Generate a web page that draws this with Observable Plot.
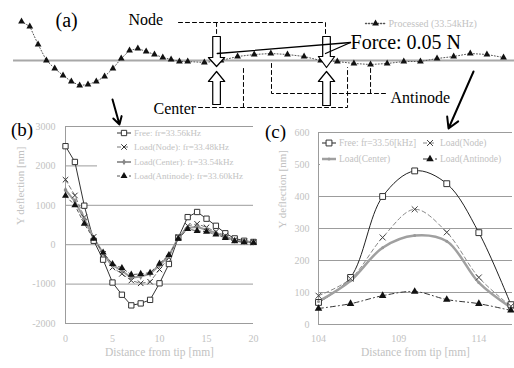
<!DOCTYPE html>
<html><head><meta charset="utf-8">
<script src="https://cdn.jsdelivr.net/npm/d3@7"></script>
<script src="https://cdn.jsdelivr.net/npm/@observablehq/plot@0.6"></script>
<style>
html,body{margin:0;padding:0;background:#fff;}
#wrap{position:relative;width:514px;height:368px;overflow:hidden;background:#fff;}
#wrap svg{position:absolute;top:0;}
</style></head><body><div id="wrap"></div>
<script>
// ---------- Panel (a): processed deflection shape ----------
const posA = [0,1,2,3,4,5,6,7,8,9,10,11,12,13,14,15,16,17,18,19,20,22,24,26,28,30,32,34,36,38,40,42,44,46,48,50,52,54,56,58];
const defA = [39,34,16,0,-8,-15,-21,-25,-24,-21,-16,-8,2,10,12,9,6,3,1,-1,-1,-2,0,4,6,7,6,4,0,-1,-3,-4,-3,-1,-1,2,4,7,6,3];
const labelA = "Processed (33.54kHz)";

// ---------- Panel (b) ----------
const distB = [0,1,2,3,4,5,6,7,8,9,10,11,12,13,14,15,16,17,18,19,20];
const freeB = [2500,2100,990,100,-380,-960,-1270,-1540,-1490,-1400,-980,-490,180,700,830,660,480,290,160,100,70];
const nodeB = [1650,1250,700,200,-230,-580,-740,-910,-980,-940,-630,-330,200,480,530,440,330,230,120,80,60];
const centerB = [1390,1100,650,170,-220,-520,-660,-840,-810,-740,-520,-280,180,430,450,380,300,200,110,70,60];
const antiB = [1240,1000,530,150,-200,-490,-590,-760,-740,-710,-480,-260,150,400,350,330,260,170,90,60,50];
const yTicksB = [-2000,-1000,0,1000,2000,3000];
const xTicksB = [0,5,10,15,20];
const namesB = ["Free: fr=33.56kHz","Load(Node): fr=33.48kHz","Load(Center): fr=33.54kHz","Load(Antinode): fr=33.60kHz"];

// ---------- Panel (c) ----------
const distC = [104,106,108,110,112,114,116];
const freeC = [69,147,400,480,440,287,62];
const nodeC = [90,143,272,360,288,147,57];
const centerC = [72,137,240,278,260,131,53];
const antiC = [50,65,90,103,78,65,44];
const yTicksC = [0,100,200,300,400,500,600];
const xTicksC = [104,109,114];
const namesC = ["Free: fr=33.56[kHz]","Load(Node)","Load(Center)","Load(Antinode)"];

const xLabel = "Distance from tip [mm]";
const yLabel = "Y deflection [nm]";

// ---------- annotation geometry (panel (a) data units) ----------
const blockArrows = [
  {cx:23.47, top:24, base:3, tip:-6},
  {cx:23.47, top:-44, base:-21, tip:-11},
  {cx:36.70, top:24, base:4, tip:-7},
  {cx:36.70, top:-45, base:-21, tip:-11}
];
const dashedA = [
  [[18.89,38],[36.58,38],[36.58,24]],
  [[23.47,38],[23.47,24]],
  [[21.30,-47],[39.23,-47],[39.23,-7]],
  [[26.71,-47],[26.71,-7]],
  [[30.08,-3],[30.08,-33],[43.80,-33]],
  [[42.00,-33],[42.00,-5]]
];
const forceLines = [
  [[39.59,18],[23.55,7]],
  [[39.59,18],[36.58,7]]
];
const pointerArrows = [
  {x1:10.95,y1:-39,x2:11.79,y2:-64},
  {x1:54.39,y1:-11,x2:51.38,y2:-68}
];
const textsA = [
  {x:4.09, y:40, t:"(a)", s:20},
  {x:12.88, y:41, t:"Node", s:16},
  {x:15.88, y:-48, t:"Center", s:16},
  {x:44.4, y:-37, t:"Antinode", s:16},
  {x:39.59, y:18, t:"Force: 0.05 N", s:20}
];

const FONT = "Liberation Serif, Times New Roman, serif";
const faint = "#c2c2c2";
const grid = "#9c9c9c";
const fmt = d => String(d);

const stylesB = [
  {stroke:"#333", width:1, dash:null, symbol:"square", r:3, fill:"white", ms:"#333"},
  {stroke:"#777", width:1, dash:"4,3", symbol:"times", r:2.6, fill:"none", ms:"#333"},
  {stroke:"#9a9a9a", width:2, dash:null, symbol:"diamond", r:2, fill:"#888", ms:"none"},
  {stroke:"#555", width:1, dash:"3,3", symbol:"triangle", r:2.6, fill:"#111", ms:"none"}
];
const stylesC = [
  {stroke:"#222", width:1, dash:null, symbol:"square", r:3.3, fill:"white", ms:"#333"},
  {stroke:"#888", width:1, dash:"4,3", symbol:"times", r:2.8, fill:"none", ms:"#444"},
  {stroke:"#a0a0a0", width:2.5, dash:null, symbol:"circle", r:1.5, fill:"#999", ms:"none"},
  {stroke:"#333", width:1, dash:"5,3,1,3", symbol:"triangle", r:2.8, fill:"#111", ms:"none"}
];

function rows(xs, ys){ return xs.map((x,i)=>({x, y: ys[i]})); }

function seriesMarks(xs, list, styles, curve){
  const m = [];
  list.forEach((ys, k)=>{
    const s = styles[k], r = rows(xs, ys);
    m.push(Plot.line(r, {x:"x", y:"y", stroke:s.stroke, strokeWidth:s.width, strokeDasharray:s.dash, curve}));
  });
  list.forEach((ys, k)=>{
    const s = styles[k], r = rows(xs, ys);
    m.push(Plot.dot(r, {x:"x", y:"y", symbol:s.symbol, r:s.r, fill:s.fill, stroke:s.ms, strokeWidth:1}));
  });
  return m;
}

const symMap = {square:d3.symbolSquare, times:d3.symbolTimes, diamond:d3.symbolDiamond, triangle:d3.symbolTriangle, circle:d3.symbolCircle};

function drawLegend(svg, names, styles, pos, box, fs){
  const g = d3.select(svg).append("g").attr("text-anchor","start");
  g.append("rect").attr("x",box[0]).attr("y",box[1]).attr("width",box[2]).attr("height",box[3]).attr("fill","white");
  names.forEach((n,i)=>{
    const s = styles[i], [x,y] = pos[i];
    g.append("line").attr("x1",x).attr("x2",x+14).attr("y1",y).attr("y2",y)
      .attr("stroke",s.stroke).attr("stroke-width",s.width).attr("stroke-dasharray",s.dash);
    g.append("path").attr("transform",`translate(${x+7},${y})`)
      .attr("d", d3.symbol(symMap[s.symbol], Math.PI*s.r*s.r)())
      .attr("fill", s.fill).attr("stroke", s.ms);
    g.append("text").attr("x",x+17).attr("y",y).attr("dy","0.35em").attr("text-anchor","start")
      .attr("font-size",fs).attr("font-family",FONT).attr("fill",faint).text(n);
  });
}

// ---- Panel (b)
const svgB = Plot.plot({
  width:260, height:368, marginLeft:65, marginRight:7, marginTop:126, marginBottom:45,
  style:{fontFamily:FONT, background:"transparent", overflow:"visible"},
  x:{domain:[0,20]}, y:{domain:[-2000,3000]},
  marks:[
    Plot.ruleY(yTicksB, {stroke:grid, strokeWidth:1}),
    Plot.ruleX([0], {stroke:grid, strokeWidth:1}),
    Plot.axisY({ticks:yTicksB, tickFormat:fmt, tickSize:0, tickPadding:10, label:null, fill:faint, fontSize:10, fontFamily:FONT}),
    Plot.axisX({ticks:xTicksB, tickFormat:fmt, tickSize:0, tickPadding:11, label:null, fill:faint, fontSize:10, fontFamily:FONT}),
    Plot.text([xLabel], {text:d=>d, frameAnchor:"bottom", dy:32, fill:faint, fontSize:11.5, fontFamily:FONT}),
    Plot.text([yLabel], {text:d=>d, frameAnchor:"left", rotate:-90, dx:-45, fill:faint, fontSize:11, fontFamily:FONT}),
    ...seriesMarks(distB, [freeB,nodeB,centerB,antiB], stylesB, "linear")
  ]
});
drawLegend(svgB, namesB, stylesB, [[117,133],[117,147],[117,162],[117,176]], [97,127,156,57], 9);
d3.select(svgB).append("text").attr("x",11).attr("y",129).attr("dy","0.35em").attr("text-anchor","start")
  .attr("font-size",19).attr("font-family",FONT).attr("fill","#000").text("(b)");
svgB.style.left = "0px";

// ---- Panel (c)
const svgC = Plot.plot({
  width:254, height:368, marginLeft:58, marginRight:2, marginTop:132, marginBottom:44,
  style:{fontFamily:FONT, background:"transparent", overflow:"visible"},
  x:{domain:[104,116.1]}, y:{domain:[0,600]},
  marks:[
    Plot.ruleY(yTicksC, {stroke:grid, strokeWidth:1}),
    Plot.ruleX([104], {stroke:grid, strokeWidth:1}),
    Plot.axisY({ticks:yTicksC, tickFormat:fmt, tickSize:0, tickPadding:9, label:null, fill:faint, fontSize:10, fontFamily:FONT}),
    Plot.axisX({ticks:xTicksC, tickFormat:fmt, tickSize:0, tickPadding:10, label:null, fill:faint, fontSize:10, fontFamily:FONT}),
    Plot.text([xLabel], {text:d=>d, frameAnchor:"bottom", dy:31, fill:faint, fontSize:11.5, fontFamily:FONT}),
    Plot.text([yLabel], {text:d=>d, frameAnchor:"left", rotate:-90, dx:-36, fill:faint, fontSize:11, fontFamily:FONT}),
    ...seriesMarks(distC, [freeC,nodeC,centerC,antiC], stylesC, "catmull-rom")
  ]
});
drawLegend(svgC, namesC, stylesC, [[62,143],[163,143],[62,159],[163,159]], [60,134,192,31], 9.5);
d3.select(svgC).append("text").attr("x",5).attr("y",131).attr("dy","0.35em").attr("text-anchor","start")
  .attr("font-size",19).attr("font-family",FONT).attr("fill","#000").text("(c)");
svgC.style.left = "260px";

// ---- Panel (a)
const arrowPolys = [];
blockArrows.forEach((a,i)=>{
  const sw = 0.46, hw = 0.98;
  [[a.cx-sw,a.top],[a.cx+sw,a.top],[a.cx+sw,a.base],[a.cx+hw,a.base],[a.cx,a.tip],[a.cx-hw,a.base],[a.cx-sw,a.base],[a.cx-sw,a.top]]
    .forEach(([x,y])=>arrowPolys.push({id:i,x,y}));
});
const dashRows = dashedA.flatMap((seg,i)=>seg.map(([x,y])=>({id:i,x,y})));
const forceRows = forceLines.flatMap((seg,i)=>seg.map(([x,y])=>({id:i,x,y})));
const legA = [{x:41.4,y:37},{x:43.8,y:37}];

const svgA = Plot.plot({
  width:514, height:130, marginLeft:0, marginRight:0, marginTop:0, marginBottom:0,
  style:{fontFamily:FONT, background:"transparent", overflow:"visible"},
  x:{domain:[-2.527,59.32], axis:null}, y:{domain:[-70,60], axis:null},
  marks:[
    Plot.ruleY([0], {x1:-0.96, x2:59.32, stroke:"#a8a8a8", strokeWidth:2}),
    Plot.line(rows(posA, defA), {x:"x", y:"y", stroke:"#555", strokeWidth:1, strokeDasharray:"1,2"}),
    Plot.dot(rows(posA, defA), {x:"x", y:"y", symbol:"triangle", r:2.5, fill:"#111"}),
    Plot.line(dashRows, {x:"x", y:"y", z:"id", stroke:"#000", strokeWidth:1, strokeDasharray:"4,3"}),
    Plot.line(arrowPolys, {x:"x", y:"y", z:"id", fill:"white", stroke:"#000", strokeWidth:1.2}),
    Plot.line(forceRows, {x:"x", y:"y", z:"id", stroke:"#000", strokeWidth:1.3}),
    Plot.arrow(pointerArrows, {x1:"x1", y1:"y1", x2:"x2", y2:"y2", stroke:"#000", strokeWidth:2, headLength:9}),
    Plot.text(textsA, {x:"x", y:"y", text:"t", fontSize:"s", textAnchor:"start", fill:"#000", fontFamily:FONT}),
    Plot.line(legA, {x:"x", y:"y", stroke:"#555", strokeDasharray:"1,2"}),
    Plot.dot([{x:42.6,y:37}], {x:"x", y:"y", symbol:"triangle", r:2.5, fill:"#111"}),
    Plot.text([labelA], {text:d=>d, x:()=>44.16, y:()=>37, textAnchor:"start", fill:faint, fontSize:10, fontFamily:FONT})
  ]
});
svgA.style.left = "0px";

const wrap = document.getElementById("wrap");
wrap.appendChild(svgB);
wrap.appendChild(svgC);
wrap.appendChild(svgA);
</script></body></html>
